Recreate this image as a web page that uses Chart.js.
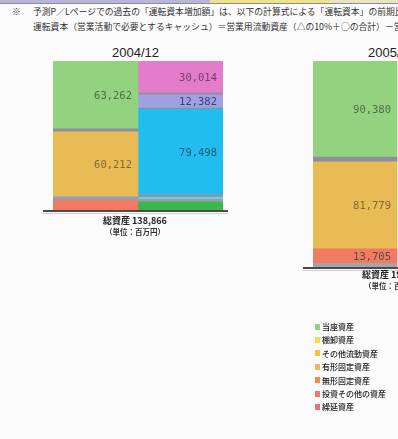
<!DOCTYPE html>
<html><head><meta charset="utf-8">
<script src="https://cdn.jsdelivr.net/npm/chart.js@4"></script>
<style>
html,body{margin:0;padding:0;width:398px;height:439px;overflow:hidden;background:#fcfbfb;font-family:"Noto Sans CJK JP","Noto Sans",sans-serif;}
.abs{position:absolute;white-space:nowrap;}
#topbar{position:absolute;left:0;top:0;width:398px;height:3px;border-bottom:1px solid #8a8a9a;display:flex;}
.note{font-size:8.8px;line-height:10px;color:#333;}
.title{font-family:"Liberation Sans",sans-serif;font-size:13px;line-height:16px;color:#222;}
.total{font-size:9px;line-height:11px;color:#222;font-weight:700;}
.unit{font-size:7.5px;line-height:9px;color:#333;font-weight:700;}
#legend{position:absolute;left:315px;top:320px;font-size:8px;color:#222;font-weight:500;}
#legend .it{height:13.4px;line-height:13.4px;display:flex;align-items:center;white-space:nowrap;}
#legend .mk{width:5px;height:6px;margin-right:2px;}
</style></head><body>
<div id="topbar"><div style="width:210px;background:#bab7d6"></div><div style="width:120px;background:#efe38a"></div><div style="flex:1;background:#e9e5c4"></div></div>
<div class="abs note" style="left:12px;top:7px;">※</div>
<div class="abs note" style="left:33px;top:7px;">予測P／Lページでの過去の「運転資本増加額」は、以下の計算式による「運転資本」の前期比較により算出</div>
<div class="abs note" style="left:33px;top:22px;">運転資本（営業活動で必要とするキャッシュ）＝営業用流動資産（△の10%＋○の合計）－営業用流動負債</div>

<div class="abs title" id="t1" style="left:112px;top:45px;"></div>
<div class="abs title" id="t2" style="left:368px;top:45px;"></div>

<div class="abs" style="left:43px;top:55px;"><canvas id="c1" width="185" height="160"></canvas></div>
<div class="abs" style="left:303px;top:55px;"><canvas id="c2" width="183" height="217"></canvas></div>

<div class="abs total" id="tot1" style="left:103px;top:215px;"></div>
<div class="abs unit" style="left:105px;top:227px;">（単位：百万円）</div>
<div class="abs total" id="tot2" style="left:362px;top:269px;"></div>
<div class="abs unit" style="left:364px;top:281px;">（単位：百万円）</div>

<div id="legend"></div>

<script>
// ---- data (million yen) ----
const titles = ['2004/12', '2005/12'];
const categories = ['資産', '負債・純資産'];
// stacked bottom -> top
const assets2004 = [9092, 3500, 60212, 2800, 63262];
const liabilities2004 = [7500, 2472, 2000, 2500, 79498, 1000, 12382, 1500, 30014];
const assets2005 = [3500, 13705, 81779, 4500, 90380];
const totals = [138866, 193864];
const legendLabels = ['当座資産', '棚卸資産', 'その他流動資産', '有形固定資産', '無形固定資産', '投資その他の資産', '繰延資産'];

// ---- styles ----
const assetColors2004 = ['#f07a62', '#9c9caa', '#e8bb55', '#8e8e9c', '#93d27e'];
const liabColors2004 = ['#3cb84a', '#9c9caa', '#62cfe6', '#8e8e9c', '#22bdef', '#8e8e9c', '#a0a0e0', '#8e8e9c', '#e27ccb'];
const assetColors2005 = ['#a4a4ac', '#f07a62', '#e8bb55', '#8e8e9c', '#93d27e'];
const assetLabelColors = ['#7a3a30', '#444', '#6e5a30', '#444', '#3e5e3a'];
const liabLabelColors = ['#234', '#444', '#234', '#444', '#1e4a5e', '#444', '#2e2e6e', '#444', '#6e2e5e'];
const legendColors = ['#93d27e', '#eee04a', '#f0c63a', '#f2b462', '#f08a48', '#f07a6a', '#ee6a86'];

document.getElementById('t1').textContent = titles[0];
document.getElementById('t2').textContent = titles[1];
document.getElementById('tot1').textContent = '総資産 ' + totals[0].toLocaleString('en-US');
document.getElementById('tot2').textContent = '総資産 ' + totals[1].toLocaleString('en-US');

const lg = document.getElementById('legend');
legendLabels.forEach((l, i) => {
  const d = document.createElement('div'); d.className = 'it';
  const m = document.createElement('span'); m.className = 'mk'; m.style.background = legendColors[i];
  const t = document.createElement('span'); t.textContent = l;
  d.appendChild(m); d.appendChild(t); lg.appendChild(d);
});

const segLabels = {
  id: 'segLabels',
  afterDatasetsDraw(chart) {
    const ctx = chart.ctx; ctx.save();
    ctx.font = '10.5px "DejaVu Sans Mono", monospace';
    ctx.textAlign = 'right'; ctx.textBaseline = 'middle';
    chart.data.datasets.forEach((ds, i) => {
      const meta = chart.getDatasetMeta(i);
      meta.data.forEach((bar, j) => {
        const v = ds.data[j];
        if (v == null || v < 10000) return;
        const p = bar.getProps(['x', 'y', 'base', 'width'], true);
        ctx.fillStyle = ds.labelColor || '#333';
        ctx.globalAlpha = 0.85;
        ctx.fillText(v.toLocaleString('en-US'), p.x + p.width / 2 - 6, (p.y + p.base) / 2 + 1);
      });
    });
    ctx.restore();
  }
};
const baseline = {
  id: 'baseline',
  afterDatasetsDraw(chart) {
    const ctx = chart.ctx, y = chart.chartArea.bottom;
    ctx.save();
    ctx.strokeStyle = '#4a4a4a'; ctx.lineWidth = 2;
    ctx.beginPath(); ctx.moveTo(0, y + 1); ctx.lineTo(chart.width, y + 1); ctx.stroke();
    ctx.strokeStyle = '#cfcfcf'; ctx.lineWidth = 1;
    ctx.beginPath(); ctx.moveTo(0, y + 3.5); ctx.lineTo(chart.width, y + 3.5); ctx.stroke();
    ctx.restore();
  }
};

function makeDatasets(left, leftColors, right, rightColors) {
  const ds = [];
  left.forEach((v, i) => ds.push({ data: [v, null], backgroundColor: leftColors[i], labelColor: assetLabelColors[i], borderWidth: 0, stack: 's' }));
  right.forEach((v, i) => ds.push({ data: [null, v], backgroundColor: rightColors[i], labelColor: liabLabelColors[i], borderWidth: 0, stack: 's' }));
  return ds;
}
function makeChart(id, datasets, total) {
  return new Chart(document.getElementById(id), {
    type: 'bar',
    data: { labels: categories, datasets },
    options: {
      responsive: false, animation: false,
      datasets: { bar: { categoryPercentage: 1, barPercentage: 1 } },
      layout: { padding: { left: 10, right: 5, top: 6, bottom: 5 } },
      plugins: { legend: { display: false }, tooltip: { enabled: false } },
      scales: {
        x: { stacked: true, display: false },
        y: { stacked: true, display: false, min: 0, max: total }
      }
    },
    plugins: [segLabels, baseline]
  });
}
makeChart('c1', makeDatasets(assets2004, assetColors2004, liabilities2004, liabColors2004), totals[0]);
makeChart('c2', makeDatasets(assets2005, assetColors2005, [], []), totals[1]);
</script>
</body></html>
